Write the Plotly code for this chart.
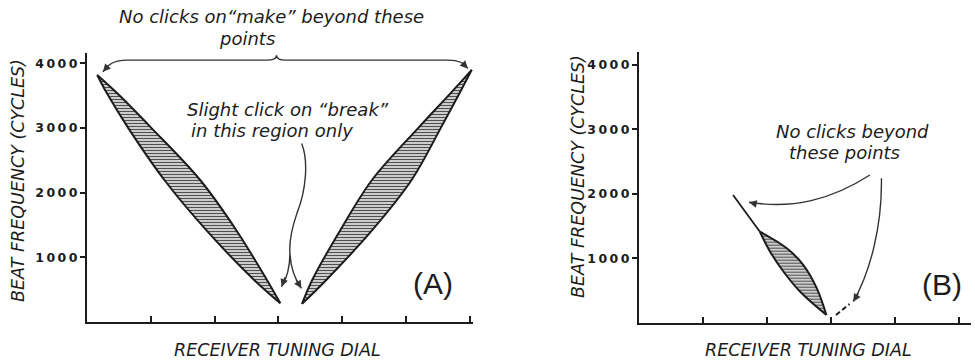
import plotly.graph_objects as go

# ---- data ----
# panel A, left lobe (dial below zero beat)
a_left_y = [3820, 3540, 3010, 2200, 1420, 650, 290]
a_left_x_outer = [0.16, 0.31, 0.64, 1.21, 1.87, 2.62, 3.03]
a_left_x_inner = [0.16, 0.47, 1.00, 1.77, 2.34, 2.82, 3.03]

# panel A, right lobe (dial above zero beat)
a_right_y = [280, 650, 1420, 2200, 3010, 3540, 3900]
a_right_x_inner = [3.37, 3.53, 3.97, 4.47, 5.20, 5.70, 6.03]
a_right_x_outer = [3.37, 3.75, 4.47, 5.09, 5.55, 5.84, 6.03]

# panel B, single lobe with straight lead-in
b_line_x = [1.47, 1.89]
b_line_y = [1980, 1410]
b_upper_x = [1.89, 2.31, 2.57, 2.78, 2.93]
b_upper_y = [1410, 1153, 894, 533, 119]
b_lower_x = [1.89, 2.05, 2.26, 2.52, 2.93]
b_lower_y = [1410, 1100, 790, 480, 119]
b_dash_x = [3.08, 3.29]
b_dash_y = [119, 290]

ytick_vals = [1000, 2000, 3000, 4000]
ytick_text = ["\u2009".join(str(v)) for v in ytick_vals]
a_xticks = [1, 2, 3, 4, 5, 6]
b_xticks = [1, 2, 3, 4, 5]

INK = "#1c1c1c"
W, H = 975, 361

hatch = dict(shape="-", size=3, solidity=0.45, fgcolor="#505050", bgcolor="#e6e6e6", fillmode="replace")
edge = dict(color=INK, width=2, shape="spline", smoothing=1.0)

fig = go.Figure()


def lobe(x1, y1, x2, y2, xa, ya):
    fig.add_trace(go.Scatter(x=x1, y=y1, mode="lines", line=edge, xaxis=xa, yaxis=ya,
                             showlegend=False, hoverinfo="skip"))
    fig.add_trace(go.Scatter(x=x2, y=y2, mode="lines", line=edge, xaxis=xa, yaxis=ya,
                             fill="tonext", fillpattern=hatch, fillcolor="#e6e6e6",
                             showlegend=False, hoverinfo="skip"))


lobe(a_left_x_outer, a_left_y, a_left_x_inner, a_left_y, "x", "y")
lobe(a_right_x_inner, a_right_y, a_right_x_outer, a_right_y, "x", "y")
fig.add_trace(go.Scatter(x=b_line_x, y=b_line_y, mode="lines", line=dict(color=INK, width=1.8),
                         xaxis="x2", yaxis="y2", showlegend=False, hoverinfo="skip"))
lobe(b_upper_x, b_upper_y, b_lower_x, b_lower_y, "x2", "y2")
fig.add_trace(go.Scatter(x=b_dash_x, y=b_dash_y, mode="lines",
                         line=dict(color=INK, width=2, dash="5px,3px"),
                         xaxis="x2", yaxis="y2", showlegend=False, hoverinfo="skip"))

# ---- pointer lines ----
thin = dict(color="#333", width=1.4)
fig.add_shape(type="path", xref="x", yref="y", line=thin,
              path="M 0.25,3869 Q 0.36,4050 0.62,4050 L 2.82,4050 Q 2.97,4050 2.97,4127 "
                   "Q 2.97,4050 3.12,4050 L 5.66,4050 Q 5.9,4050 5.97,3921")
fig.add_shape(type="path", xref="x", yref="y", line=thin,
              path="M 3.365,2762 C 3.47,2500 3.44,2050 3.29,1680 C 3.20,1420 3.17,1200 3.18,1061 "
                   "Q 3.18,750 3.05,546 M 3.18,1061 Q 3.20,740 3.36,521")
fig.add_shape(type="path", xref="x2", yref="y2", line=thin,
              path="M 3.61,2289 C 3.0,1900 2.4,1760 1.72,1866")
fig.add_shape(type="path", xref="x2", yref="y2", line=thin,
              path="M 3.79,2238 C 3.80,1500 3.62,800 3.35,326")

heads = [("x", "y", 0.25, 3869, 7, -8), ("x", "y", 5.97, 3921, -7, -7),
         ("x", "y", 3.05, 546, 4, -11), ("x", "y", 3.36, 521, -6, -10),
         ("x2", "y2", 1.72, 1866, 9, 2), ("x2", "y2", 3.35, 326, 6, -10)]
for xr, yr, hx, hy, ax, ay in heads:
    fig.add_annotation(xref=xr, yref=yr, x=hx, y=hy, ax=ax, ay=ay, text="", showarrow=True,
                       arrowhead=2, arrowsize=1.1, arrowwidth=1.4, arrowcolor="#333")

# ---- text ----
hand = dict(family="DejaVu Sans", size=18, color=INK, style="italic")
notes = [("No clicks on\u201cmake\u201d beyond these", 271, 17),
         ("points", 247, 38),
         ("Slight click on \u201cbreak\u201d", 288, 109),
         ("in this region only", 272, 130),
         ("No clicks beyond", 852, 131),
         ("these points", 844, 152)]
for txt, px, py in notes:
    fig.add_annotation(xref="paper", yref="paper", x=px / W, y=1 - py / H, text=txt,
                       showarrow=False, font=hand, xanchor="center", yanchor="middle",
                       borderpad=0)

for txt, px, py in [("(A)", 433, 283), ("(B)", 942, 284)]:
    fig.add_annotation(xref="paper", yref="paper", x=px / W, y=1 - py / H, text=txt,
                       showarrow=False, font=dict(family="Liberation Sans", size=30, color=INK),
                       xanchor="center", yanchor="middle")

cap = dict(family="DejaVu Sans", size=17.5, color=INK, style="italic")
for px in [277, 808]:
    fig.add_annotation(xref="paper", yref="paper", x=px / W, y=1 - 350 / H,
                       text="RECEIVER TUNING DIAL", showarrow=False, font=cap,
                       xanchor="center", yanchor="middle")
for px, py in [(18, 181), (578, 177)]:
    fig.add_annotation(xref="paper", yref="paper", x=px / W, y=1 - py / H,
                       text="BEAT FREQUENCY (CYCLES)", showarrow=False, font=cap,
                       textangle=-90, xanchor="center", yanchor="middle")

# ---- axes ----
axline = dict(showline=True, linewidth=2, linecolor=INK, showgrid=False, zeroline=False,
              fixedrange=True, tickcolor=INK, tickwidth=2)
xcommon = dict(axline, ticks="inside", ticklen=6, showticklabels=False)
ycommon = dict(axline, ticks="outside", ticklen=5, tickvals=ytick_vals, ticktext=ytick_text,
               tickfont=dict(family="DejaVu Sans", size=12.5, color=INK, weight="bold"))

fig.update_layout(
    width=W, height=H,
    margin=dict(l=0, r=0, t=0, b=0),
    paper_bgcolor="white", plot_bgcolor="white",
    xaxis=dict(xcommon, domain=[87 / W, 473 / W], range=[0, 6.05], tickvals=a_xticks, anchor="y"),
    yaxis=dict(ycommon, domain=[1 - 322 / H, 1 - 53 / H], range=[0, 4160], anchor="x"),
    xaxis2=dict(xcommon, domain=[639 / W, 971 / W], range=[0, 5.19], tickvals=b_xticks, anchor="y2"),
    yaxis2=dict(ycommon, domain=[1 - 322.7 / H, 1 - 51.7 / H], range=[0, 4200], anchor="x2"),
)

# the page body has a default 8px margin; drop it so the figure sits at the window origin
fig.write_html("out.html", config={"displayModeBar": False},
               post_script="document.body.style.margin='0';")
